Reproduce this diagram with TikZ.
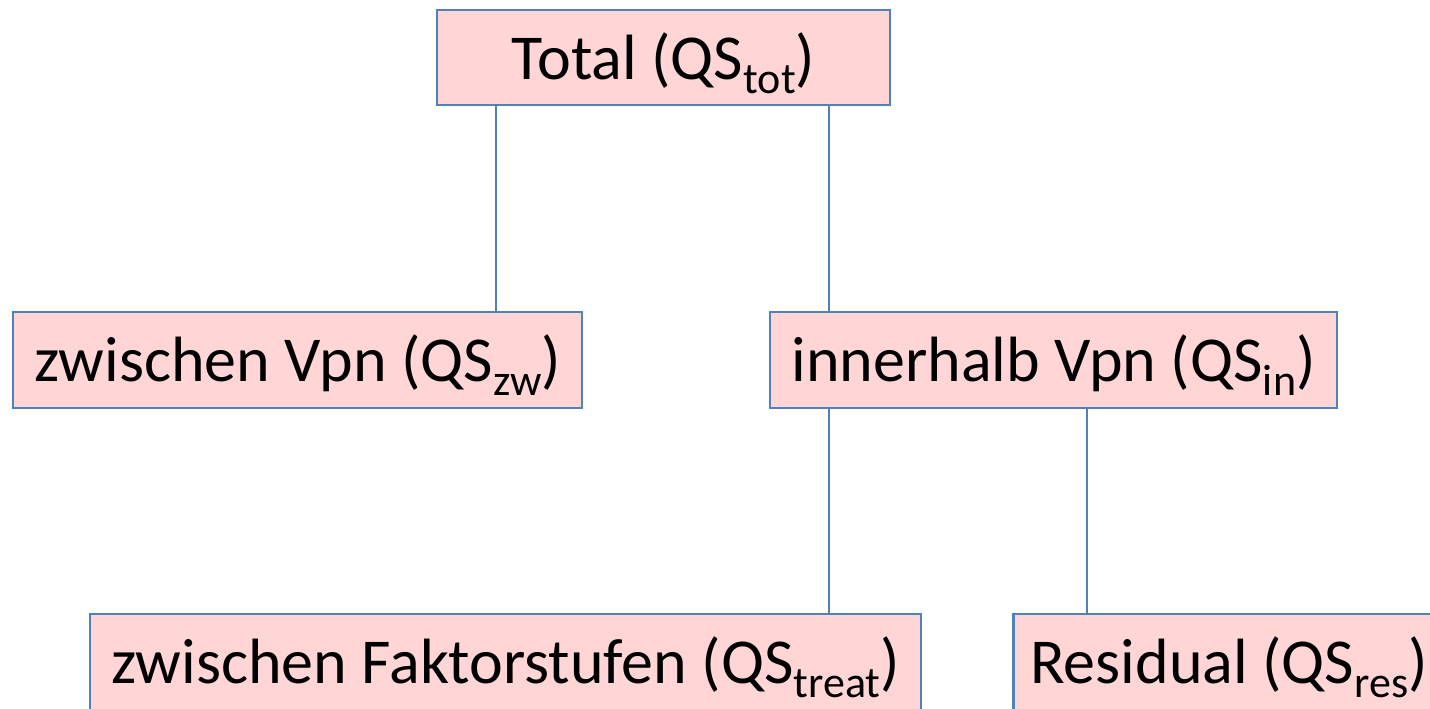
\documentclass[tikz,border=0pt]{standalone}
\usepackage{fontspec}
\setmainfont{Carlito}
\newcommand\qsub[1]{\raisebox{-10.5pt}{\fontsize{33}{33}\selectfont #1}}
\tikzset{
  box/.style={draw=boxblue, line width=1.6pt, fill=boxpink, inner sep=0pt,
    text height=45pt, text depth=12.75pt, minimum height=72pt,
    font=\fontsize{48}{52}\selectfont},
  conn/.style={draw=boxblue, line width=1.75pt}
}
\definecolor{boxblue}{HTML}{4F81BD}
\definecolor{boxpink}{HTML}{FFD5D6}
\begin{document}
\begin{tikzpicture}[x=0.75pt, y=-0.75pt]
\useasboundingbox (0,0) rectangle (1430,708);
\clip (0,0) rectangle (1430,708);
\node[box, minimum width=339.75pt, minimum height=71.25pt] (tot) at (663.5,57.5) {Total (QS\qsub{tot})};
\node[box, minimum width=426.75pt] (zw) at (297.5,360) {zwischen Vpn (QS\qsub{zw})};
\node[box, minimum width=425.25pt] (inn) at (1053.5,360) {innerhalb Vpn (QS\qsub{in})};
\node[box, minimum width=623.25pt] (treat) at (505.5,662) {zwischen Faktorstufen (QS\qsub{treat})};
\node[box, minimum width=323.25pt] (res) at (1229,662) {Residual (QS\qsub{res})};
\draw[conn] ([xshift=45pt]tot.south west) -- ([xshift=45pt]tot.south west |- zw.north);
\draw[conn] ([xshift=294.75pt]tot.south west) -- ([xshift=294.75pt]tot.south west |- inn.north);
\draw[conn] ([xshift=45pt]inn.south west) -- ([xshift=45pt]inn.south west |- treat.north);
\draw[conn] ([xshift=238.5pt]inn.south west) -- ([xshift=238.5pt]inn.south west |- res.north);
\end{tikzpicture}
\end{document}
